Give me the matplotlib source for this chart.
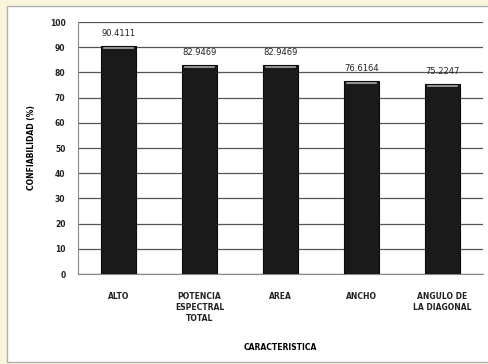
import matplotlib
matplotlib.use("Agg")
import matplotlib.pyplot as plt
from matplotlib.patches import Rectangle

categories = ["ALTO", "POTENCIA\nESPECTRAL\nTOTAL", "AREA", "ANCHO", "ANGULO DE\nLA DIAGONAL"]
values = [90.4111, 82.9469, 82.9469, 76.6164, 75.2247]
value_labels = ["90.4111", "82.9469", "82.9469", "76.6164", "75.2247"]
yticks = [0, 10, 20, 30, 40, 50, 60, 70, 80, 90, 100]

fig = plt.figure(figsize=(4.89, 3.64), dpi=100)
fig.patch.set_facecolor("#f9f5dd")
fig.patches.append(Rectangle((7/489, 2/364), 482/489, 356/364, transform=fig.transFigure,
                             facecolor="white", edgecolor="#b0b0b0", linewidth=1.0, zorder=-5))

ax = fig.add_axes([78/489, 90/364, 405/489, 252/364])
ax.set_zorder(2)
ax.set_facecolor("white")
x = list(range(len(categories)))
bars = ax.bar(x, values, width=0.42, color="#1a1a1a", edgecolor="#0a0a0a", linewidth=0.8, zorder=3)
# highlight at top of bars
for b in bars:
    ax.plot([b.get_x() + 0.03, b.get_x() + b.get_width() - 0.03],
            [b.get_height() - 0.8, b.get_height() - 0.8], color="#a8a8a8", linewidth=1.2, zorder=4)
for xi, v, lab in zip(x, values, value_labels):
    ax.text(xi, v + 3.2, lab, ha="center", va="bottom", fontsize=6, color="#222222")

ax.set_ylim(0, 100)
ax.set_xlim(-0.5, len(categories) - 0.5)
ax.set_yticks(yticks)
ax.set_yticklabels([str(t) for t in yticks], fontsize=5.5, fontweight="bold")
ax.set_xticks(x)
ax.set_xticklabels(categories, fontsize=5.5, fontweight="bold", linespacing=1.3)
ax.tick_params(axis="y", length=0, pad=9, colors="#222222")
ax.tick_params(axis="x", length=0, pad=13, colors="#222222")
ax.yaxis.grid(True, color="#555555", linewidth=0.9, zorder=0)
ax.set_axisbelow(True)
for s in ["top", "right"]:
    ax.spines[s].set_visible(False)
ax.spines["left"].set_color("#888888")
ax.spines["bottom"].set_color("#888888")
ax.set_ylabel("CONFIABILIDAD (%)", fontsize=5.5, fontweight="bold", labelpad=10)
ax.set_xlabel("CARACTERISTICA", fontsize=5.5, fontweight="bold", labelpad=14)

fig.savefig("out.png", dpi=100, facecolor=fig.get_facecolor())
